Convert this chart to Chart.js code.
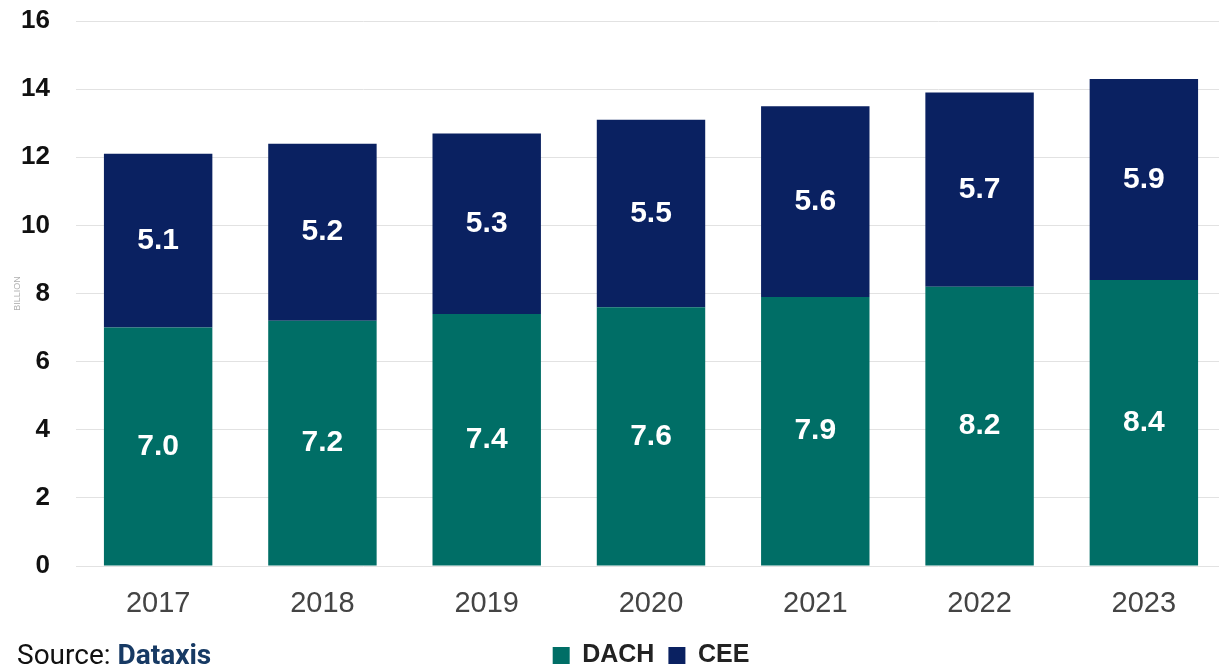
<!DOCTYPE html>
<html>
<head>
<meta charset="utf-8">
<script src="https://cdn.jsdelivr.net/npm/chart.js@4.4.1/dist/chart.umd.min.js"></script>
<style>
  html, body { margin: 0; padding: 0; background: #fff; overflow: hidden; }
  #wrap { position: relative; width: 1226px; height: 668px; overflow: hidden; }
  #box { position: absolute; left: 0; top: -18px; width: 1226px; height: 696px; }
  #source {
    position: absolute; left: 17px; top: 638px;
    font-family: Roboto, "Liberation Sans", sans-serif; font-size: 28px; color: #111;
  }
  #source b { color: #173a64; font-weight: 700; }
</style>
</head>
<body>
<div id="wrap">
  <div id="box"><canvas id="chart"></canvas></div>
  <div id="source">Source: <b>Dataxis</b></div>
</div>
<script>
// Ingresos por región (miles de millones)
const years = ['2017', '2018', '2019', '2020', '2021', '2022', '2023'];
const dach = [7.0, 7.2, 7.4, 7.6, 7.9, 8.2, 8.4];
const cee = [5.1, 5.2, 5.3, 5.5, 5.6, 5.7, 5.9];
const yTicks = [0, 2, 4, 6, 8, 10, 12, 14, 16];

const colorDach = '#006e66';
const colorCee = '#0a2161';
const fontFamily = '"Liberation Sans", Arial, sans-serif';

// Escribe el valor en el centro de cada segmento
const barValues = {
    id: 'barValues',
    afterDatasetsDraw(chart) {
        const ctx = chart.ctx;
        ctx.save();
        ctx.fillStyle = '#fff';
        ctx.font = 'bold 30px ' + fontFamily;
        ctx.textAlign = 'center';
        ctx.textBaseline = 'middle';
        chart.data.datasets.forEach((ds, i) => {
            chart.getDatasetMeta(i).data.forEach((bar, j) => {
                ctx.fillText(ds.data[j].toFixed(1), bar.x, (bar.y + bar.base) / 2);
            });
        });
        ctx.restore();
    }
};

const ctx = document.getElementById('chart').getContext('2d');

new Chart(ctx, {
    type: 'bar',
    data: {
        labels: years,
        datasets: [
            { label: 'DACH', data: dach, backgroundColor: colorDach },
            { label: 'CEE', data: cee, backgroundColor: colorCee }
        ]
    },
    options: {
        responsive: true,
        maintainAspectRatio: false,
        animation: false,
        layout: { padding: { left: 9, right: 0, top: 0, bottom: 0 } },
        datasets: { bar: { categoryPercentage: 1, barPercentage: 0.66 } },
        scales: {
            x: {
                stacked: true,
                grid: { display: false },
                border: { display: false },
                afterFit: axis => { axis.height -= 4; },
                ticks: {
                    color: '#444',
                    padding: 15,
                    font: { family: fontFamily, size: 29, lineHeight: 1 }
                }
            },
            y: {
                stacked: true,
                min: 0,
                max: 16,
                afterBuildTicks: axis => { axis.ticks = yTicks.map(v => ({ value: v })); },
                afterFit: axis => { axis.width = 67; },
                grid: { color: '#e2e2e2', drawTicks: false },
                border: { display: false },
                title: {
                    display: true,
                    text: 'BILLION',
                    color: '#b0b0b0',
                    padding: { top: 3, bottom: 3 },
                    font: { family: fontFamily, size: 9 }
                },
                ticks: {
                    color: '#111',
                    padding: 26,
                    font: { family: fontFamily, size: 26, weight: 'bold', lineHeight: 1 }
                }
            }
        },
        plugins: {
            legend: {
                position: 'bottom',
                fullSize: false,
                labels: {
                    color: '#222',
                    boxWidth: 17,
                    boxHeight: 17,
                    padding: 14,
                    font: { family: fontFamily, size: 25, weight: 'bold', lineHeight: 1 }
                }
            },
            tooltip: { enabled: false }
        }
    },
    plugins: [barValues]
});
</script>
</body>
</html>
